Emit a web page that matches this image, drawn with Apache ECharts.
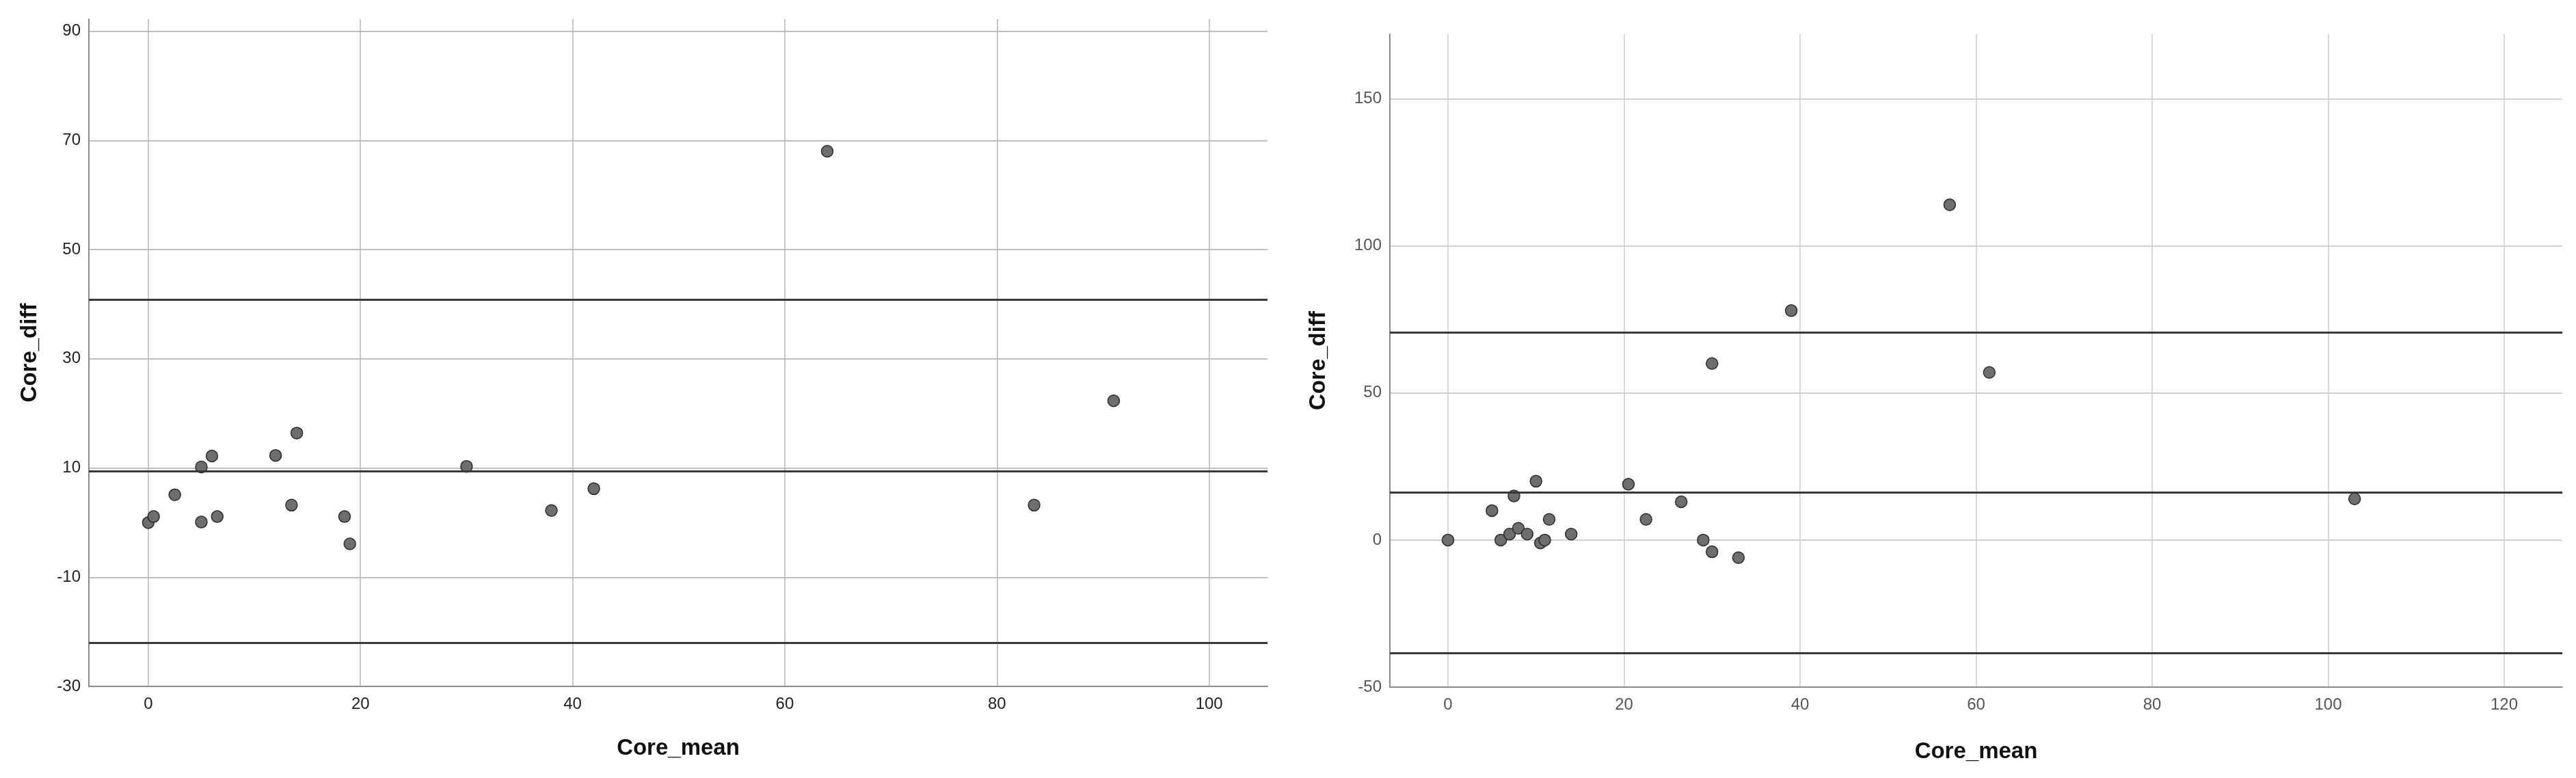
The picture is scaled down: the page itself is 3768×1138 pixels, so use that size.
<!DOCTYPE html>
<html>
<head>
<meta charset="utf-8">
<script src="https://cdn.jsdelivr.net/npm/echarts@6/dist/echarts.min.js"></script>
<style>
  html, body { margin: 0; padding: 0; background: #fff; }
  #chart { width: 3768px; height: 1138px; }
</style>
</head>
<body>
<div id="chart"></div>
<script>
// left panel: Bland-Altman, first comparison
var leftMean = [0, 0.5, 2.5, 5, 5, 6, 6.5, 12, 13.5, 14, 18.5, 19, 30, 38, 42, 64, 83.5, 91];
var leftDiff = [0, 1.1, 5.1, 10.2, 0.1, 12.2, 1.1, 12.3, 3.2, 16.4, 1.1, -3.9, 10.3, 2.2, 6.2, 68, 3.2, 22.3];
var leftLines = [40.8, 9.4, -22.0];   // upper limit, mean, lower limit
var leftXTicks = [0, 20, 40, 60, 80, 100];
var leftYTicks = [-30, -10, 10, 30, 50, 70, 90];

// right panel: second comparison
var rightMean = [0, 5, 6, 7, 7.5, 8, 9, 10, 10.5, 11, 11.5, 14, 20.5, 22.5, 26.5, 29, 30, 33, 30, 39, 57, 61.5, 103];
var rightDiff = [0, 10, 0, 2, 15, 4, 2, 20, -1, 0, 7, 2, 19, 7, 13, 0, -4, -6, 60, 78, 114, 57, 14];
var rightLines = [70.7, 16.1, -38.5];
var rightXTicks = [0, 20, 40, 60, 80, 100, 120];
var rightYTicks = [-50, 0, 50, 100, 150];

var FONT = 'Liberation Sans, Arial, sans-serif';

function pairs(xs, ys) {
  var out = [];
  for (var i = 0; i < xs.length; i++) out.push([xs[i], ys[i]]);
  return out;
}

function xAxisFor(idx, min, max, ticks, labelColor, gridColor, gap) {
  return {
    type: 'value', gridIndex: idx, min: min, max: max,
    name: 'Core_mean', nameLocation: 'middle', nameGap: gap,
    nameTextStyle: {fontFamily: FONT, fontSize: 33, fontWeight: 'bold', color: '#111'},
    axisLine: {show: true, onZero: false, lineStyle: {color: '#8c8c8c', width: 2}},
    axisTick: {show: false, customValues: ticks},
    axisLabel: {customValues: ticks, margin: 14, fontFamily: FONT, fontSize: 24, color: labelColor},
    splitLine: {show: true, lineStyle: {color: gridColor, width: 1.5}},
  };
}

function yAxisFor(idx, min, max, ticks, labelColor, gridColor, gap) {
  return {
    type: 'value', gridIndex: idx, min: min, max: max,
    name: 'Core_diff', nameLocation: 'middle', nameGap: gap, nameRotate: 90,
    nameTextStyle: {fontFamily: FONT, fontSize: 33, fontWeight: 'bold', color: '#111'},
    axisLine: {show: true, onZero: false, lineStyle: {color: '#8c8c8c', width: 2}},
    axisTick: {show: false, customValues: ticks},
    axisLabel: {customValues: ticks, margin: 12, fontFamily: FONT, fontSize: 24, color: labelColor},
    splitLine: {show: true, lineStyle: {color: gridColor, width: 2}},
  };
}

function scatterFor(idx, xs, ys, lines) {
  return {
    type: 'scatter', xAxisIndex: idx, yAxisIndex: idx,
    data: pairs(xs, ys),
    symbol: 'circle', symbolSize: 17,
    itemStyle: {color: '#6e6e6e', borderColor: '#2b2b2b', borderWidth: 1.5, opacity: 1},
    markLine: {
      silent: true, symbol: 'none', animation: false,
      label: {show: false},
      lineStyle: {color: '#383838', width: 3, type: 'solid'},
      data: lines.map(function(v) { return {yAxis: v}; }),
    },
  };
}

var chart = echarts.init(document.getElementById('chart'));
chart.setOption({
  backgroundColor: '#ffffff',
  animation: false,
  grid: [
    {left: 130, top: 28, width: 1724, height: 976},
    {left: 2033, top: 50, width: 1715, height: 955},
  ],
  xAxis: [
    xAxisFor(0, -5.6, 105.5, leftXTicks, '#222', '#b4b4b4', 74),
    xAxisFor(1, -6.6, 126.6, rightXTicks, '#555', '#cdcdcd', 78),
  ],
  yAxis: [
    yAxisFor(0, -30, 92.2, leftYTicks, '#222', '#bfbfbf', 70),
    yAxisFor(1, -50, 172, rightYTicks, '#555', '#d2d2d2', 88),
  ],
  series: [
    scatterFor(0, leftMean, leftDiff, leftLines),
    scatterFor(1, rightMean, rightDiff, rightLines),
  ],
});
</script>
</body>
</html>
